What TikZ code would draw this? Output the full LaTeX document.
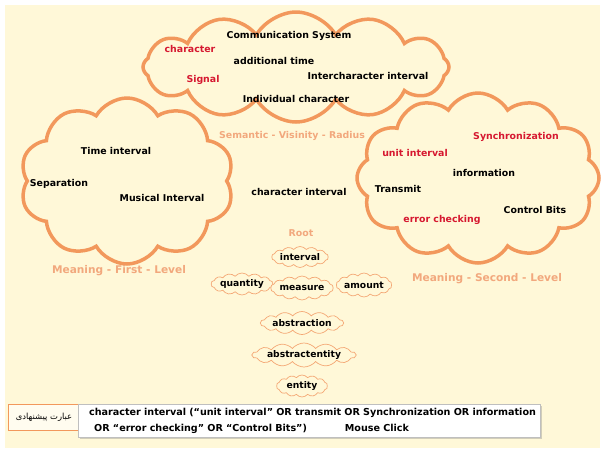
\documentclass[tikz,border=0pt]{standalone}
\usepackage{fontspec}
\setmainfont{DejaVu Sans}
\newfontfamily\persianfont[Script=Arabic]{DejaVu Sans}
\TeXXeTstate=1
\usetikzlibrary{shapes.symbols,shadows}

\definecolor{bgcream}{RGB}{255,248,216}
\definecolor{cloudorange}{RGB}{242,152,92}
\definecolor{labelorange}{RGB}{242,168,125}
\definecolor{wordred}{RGB}{214,24,48}

\tikzset{
  bigcloud/.style={cloud, cloud puffs=12, cloud puff arc=120, cloud ignores aspect,
    draw=cloudorange, line width=3.5pt, fill=bgcream},
  smallcloud/.style={cloud, cloud puffs=14, cloud puff arc=100, cloud ignores aspect,
    draw=cloudorange!85, line width=0.7pt, fill=bgcream, inner sep=0pt,
    font=\bfseries\fontsize{9.2}{10}\selectfont},
  word/.style={font=\bfseries\fontsize{9.4}{11}\selectfont, text=black},
  redword/.style={word, text=wordred},
  levellabel/.style={font=\bfseries\fontsize{9.4}{11}\selectfont, text=labelorange},
}

\begin{document}
\begin{tikzpicture}[x=1pt,y=-1pt]
    \useasboundingbox (0,0) rectangle (605,448);
    \fill[bgcream] (5,5) rectangle (600,448);% page background
    % the three big clouds
    \node[bigcloud, cloud puffs=10, minimum width=214pt, minimum height=166pt] (first) at (127,181) {};
    \node[bigcloud, minimum width=242pt, minimum height=170pt] (second) at (478,178) {};
    \node[bigcloud, minimum width=306pt, minimum height=110pt] (semantic) at (296,67) {};
    % words in the top cloud
    \node[word] (comsys) at (289,36) {Communication System};
    \node[redword] (character) at (190,49) {character};
    \node[word] (addtime) at (274,61) {additional time};
    \node[redword] (signal) at (203,80) {Signal};
    \node[word] (interchar) at (368,76) {Intercharacter interval};
    \node[word] (indiv) at (296,99) {Individual character};
    \node[levellabel] (semlabel) at (292,136) {Semantic - Visinity - Radius};
    % words in the left cloud
    \node[word] (timeint) at (116,151) {Time interval};
    \node[word] (separation) at (59,184) {Separation};
    \node[word] (musical) at (162,198) {Musical Interval};
    \node[levellabel, font=\bfseries\fontsize{10.6}{12}\selectfont] (firstlabel) at (119,271) {Meaning - First - Level};
    % words in the right cloud
    \node[redword] (unitint) at (415,153) {unit interval};
    \node[redword] (sync) at (516,137) {Synchronization};
    \node[word] (info) at (484,173) {information};
    \node[word] (transmit) at (398,189) {Transmit};
    \node[word] (ctrlbits) at (535,210) {Control Bits};
    \node[redword] (errcheck) at (442,220) {error checking};
    \node[levellabel, font=\bfseries\fontsize{10.6}{12}\selectfont] (secondlabel) at (487,279) {Meaning - Second - Level};
    % the query in the middle
    \node[word] (charint) at (299,192) {character interval};
    % the root chain
    \node[levellabel] (root) at (301,233) {Root};
    \node[smallcloud, minimum width=56pt, minimum height=21pt] (interval) at (300,257) {interval};
    \node[smallcloud, minimum width=53pt, minimum height=22pt] (quantity) at (242,284) {quantity};
    \node[smallcloud, minimum width=53pt, minimum height=24pt] (measure) at (302,288) {measure};
    \node[smallcloud, minimum width=55pt, minimum height=24pt] (amount) at (364,285) {amount};
    \node[smallcloud, minimum width=71pt, minimum height=23pt] (abstraction) at (302,323) {abstraction};
    \node[smallcloud, minimum width=102pt, minimum height=24pt] (abstractentity) at (304,355) {abstractentity};
    \node[smallcloud, minimum width=51pt, minimum height=22pt] (entity) at (302,386) {entity};
    % the suggestion bar
    \node[draw=cloudorange, line width=0.8pt, fill=bgcream!40, minimum width=72pt, minimum height=26pt,
      font=\persianfont\fontsize{8.4}{9}\selectfont] (suggest) at (44,417) {\beginR عبارت پیشنهادی\endR};
    \node[draw=black!25, fill=white, drop shadow={opacity=0.35, shadow xshift=2pt, shadow yshift=-2pt},
      minimum height=33pt, anchor=west, align=left, text width=440pt, inner xsep=11pt,
      font=\bfseries\fontsize{9.6}{16}\selectfont] (query) at (78,420.5)
      {\mbox{character interval (“unit interval” OR transmit OR Synchronization OR information}\\
      \hspace*{5pt}OR “error checking” OR “Control Bits”)\hspace{38pt}Mouse Click};
\end{tikzpicture}
\end{document}
